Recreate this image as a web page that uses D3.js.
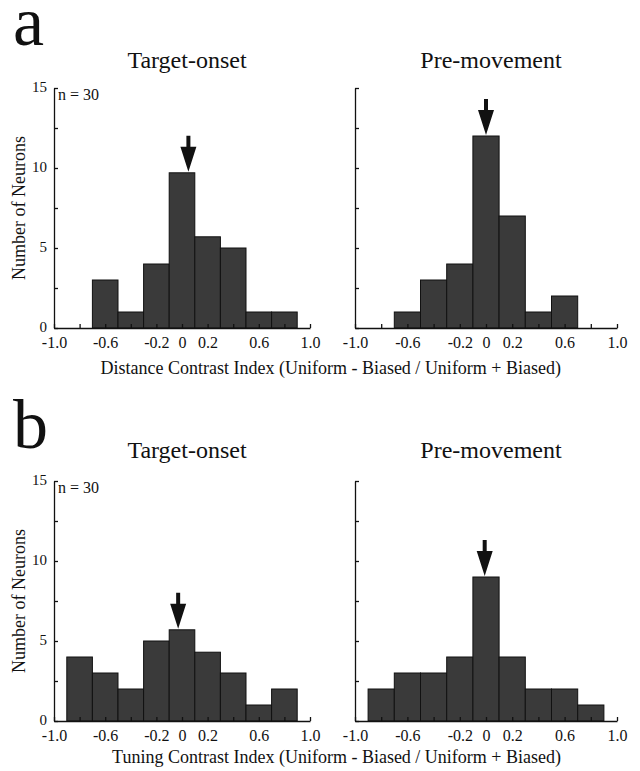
<!DOCTYPE html>
<html>
<head>
<meta charset="utf-8">
<script src="https://cdn.jsdelivr.net/npm/d3@7"></script>
<style>
  body { margin: 0; background: #fff; }
</style>
</head>
<body>
<div id="frame"></div>
<script>
const width = 640
const height = 771
const serif = '"Liberation Serif", "Times New Roman", Times, "DejaVu Serif", serif'

// bin centres (bin width 0.2) and counts
const aTargetCenters = [-0.6, -0.4, -0.2, 0, 0.2, 0.4, 0.6, 0.8]
const aTargetCounts = [3, 1, 4, 9.7, 5.7, 5, 1, 1]
const aPreCenters = [-0.6, -0.4, -0.2, 0, 0.2, 0.4, 0.6]
const aPreCounts = [1, 3, 4, 12, 7, 1, 2]
const bCenters = [-0.8, -0.6, -0.4, -0.2, 0, 0.2, 0.4, 0.6, 0.8]
const bTargetCounts = [4, 3, 2, 5, 5.7, 4.3, 3, 1, 2]
const bPreCounts = [2, 3, 3, 4, 9, 4, 2, 2, 1]

// median arrows
const arrowValues = [0.05, 0, -0.03, -0.01]

const xTicks = d3.range(11).map(i => Math.round((-1 + i * 0.2) * 10) / 10)
const xLabelled = [-1, -0.6, -0.2, 0, 0.2, 0.6, 1]
const yTicks = [0, 2.5, 5, 7.5, 10, 12.5, 15]
const yLabelled = [0, 5, 10, 15]
const binWidth = 0.2

const titles = ['Target-onset', 'Pre-movement']
const xTitles = [
  'Distance Contrast Index (Uniform - Biased / Uniform + Biased)',
  'Tuning Contrast Index (Uniform - Biased / Uniform + Biased)'
]

const rows = [
  { letter: 'a', letterY: 45, titleY: 68, y0: 328, y1: 88, xTitleY: 374 },
  { letter: 'b', letterY: 448, titleY: 458, y0: 721, y1: 481, xTitleY: 763 }
]
const cols = [
  { x0: 54, x1: 310 },
  { x0: 355, x1: 617 }
]

const panels = [
  { row: 0, col: 0, centers: aTargetCenters, counts: aTargetCounts, arrow: arrowValues[0] },
  { row: 0, col: 1, centers: aPreCenters, counts: aPreCounts, arrow: arrowValues[1] },
  { row: 1, col: 0, centers: bCenters, counts: bTargetCounts, arrow: arrowValues[2] },
  { row: 1, col: 1, centers: bCenters, counts: bPreCounts, arrow: arrowValues[3] }
]

const fmt = v => xLabelled.includes(v) ? (Math.abs(v) === 1 ? v.toFixed(1) : String(v)) : ''

const svg = d3.select('#frame')
  .append('svg')
  .attr('width', width)
  .attr('height', height)

rows.forEach((r, i) => {
  svg.append('text')
    .attr('x', 13)
    .attr('y', r.letterY)
    .style('font-size', '70px')
    .text(r.letter)

  cols.forEach((c, j) => {
    svg.append('text')
      .attr('x', (c.x0 + c.x1) / 2 + 5)
      .attr('y', r.titleY)
      .attr('text-anchor', 'middle')
      .style('font-size', '24px')
      .text(titles[j])
  })

  svg.append('text')
    .attr('transform', `translate(25,${(r.y0 + r.y1) / 2}) rotate(-90)`)
    .attr('text-anchor', 'middle')
    .style('font-size', '18px')
    .text('Number of Neurons')

  svg.append('text')
    .attr('x', 561)
    .attr('y', r.xTitleY)
    .attr('text-anchor', 'end')
    .style('font-size', '18px')
    .text(xTitles[i])
})

function drawPanel(p) {
  const r = rows[p.row]
  const c = cols[p.col]
  const x = d3.scaleLinear().domain([-1, 1]).range([c.x0, c.x1])
  const y = d3.scaleLinear().domain([0, 15]).range([r.y0, r.y1])
  const g = svg.append('g')

  const bins = p.centers.map((m, i) => ({ m, n: p.counts[i] }))

  g.selectAll('rect.bar')
    .data(bins)
    .join('rect')
    .attr('class', 'bar')
    .attr('x', d => x(d.m - binWidth / 2))
    .attr('width', d => x(d.m + binWidth / 2) - x(d.m - binWidth / 2))
    .attr('y', d => y(d.n))
    .attr('height', d => y(0) - y(d.n))
    .attr('fill', '#3a3a3a')
    .attr('stroke', '#111')
    .attr('stroke-width', 1)

  const xAxis = d3.axisBottom(x)
    .tickValues(xTicks)
    .tickFormat(fmt)
    .tickSizeInner(-4)
    .tickSizeOuter(0)
    .tickPadding(9)
  const xg = g.append('g')
    .attr('transform', `translate(0,${r.y0})`)
    .call(xAxis)
  xg.selectAll('text')
    .style('font-size', '16px')
    .attr('fill', '#111')

  const yAxis = d3.axisLeft(y)
    .tickValues(yTicks)
    .tickFormat(v => p.col === 0 && yLabelled.includes(v) ? String(v) : '')
    .tickSizeInner(-4)
    .tickSizeOuter(0)
    .tickPadding(7)
  const yg = g.append('g')
    .attr('transform', `translate(${c.x0},0)`)
    .call(yAxis)
  yg.selectAll('text')
    .style('font-size', '15px')
    .attr('dy', '0.2em')
    .attr('fill', '#111')

  g.selectAll('.domain, .tick line')
    .attr('stroke', '#111')
    .attr('stroke-width', 1.3)

  if (p.col === 0) {
    g.append('text')
      .attr('x', c.x0 + 4)
      .attr('y', y(15) + 12)
      .style('font-size', '16px')
      .text('n = 30')
  }

  // arrow pointing down to the top of the bin holding the median
  const hit = bins.find(d => Math.abs(d.m - p.arrow) <= binWidth / 2)
  const tipY = y(hit.n) - 1
  const ax = x(p.arrow)
  const shaftLen = 11
  const headLen = 25
  const headHalf = 8
  const shaftHalf = 2
  g.append('path')
    .attr('d', [
      `M${ax - shaftHalf},${tipY - headLen - shaftLen}`,
      `L${ax + shaftHalf},${tipY - headLen - shaftLen}`,
      `L${ax + shaftHalf},${tipY - headLen}`,
      `L${ax + headHalf},${tipY - headLen}`,
      `L${ax},${tipY}`,
      `L${ax - headHalf},${tipY - headLen}`,
      `L${ax - shaftHalf},${tipY - headLen}`,
      'Z'
    ].join(''))
    .attr('fill', '#111')
}

panels.forEach(drawPanel)

svg.selectAll('text')
  .style('font-family', serif)
  .attr('fill', '#111')
</script>
</body>
</html>
